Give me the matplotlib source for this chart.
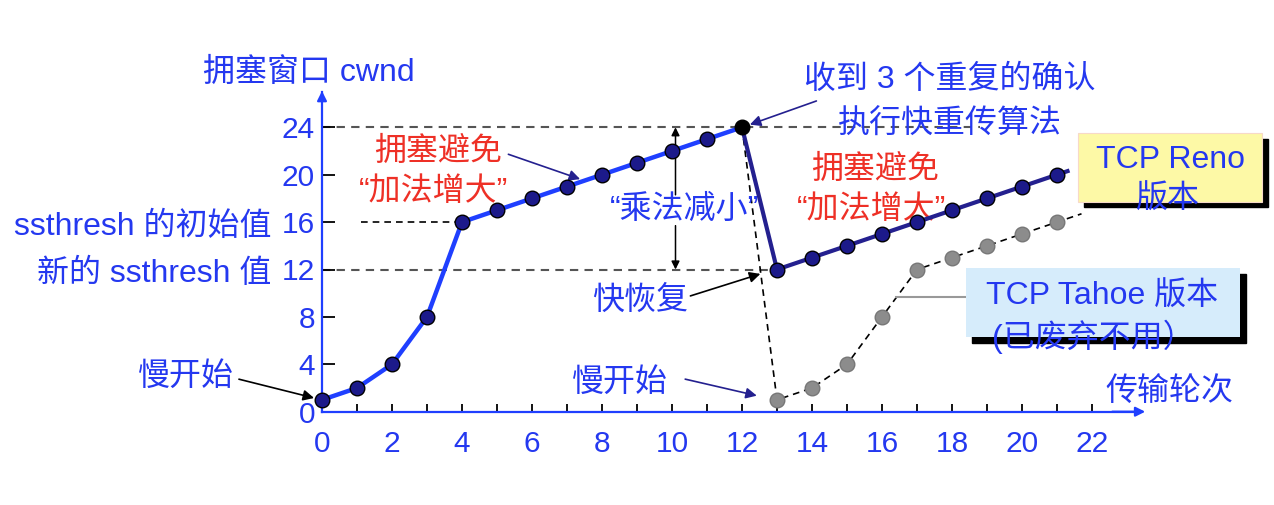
import numpy as np
import matplotlib.pyplot as plt
from matplotlib.patches import Rectangle

plt.rcParams['font.family'] = ['Liberation Sans', 'Noto Sans CJK SC']

# transmission rounds and cwnd values
rounds_start = [0, 1, 2, 3, 4, 5, 6, 7, 8, 9, 10, 11, 12]
cwnd_start = [1, 2, 4, 8, 16, 17, 18, 19, 20, 21, 22, 23, 24]
rounds_reno = [12, 13, 14, 15, 16, 17, 18, 19, 20, 21]
cwnd_reno = [24, 12, 13, 14, 15, 16, 17, 18, 19, 20]
rounds_tahoe = [12, 13, 14, 15, 16, 17, 18, 19, 20, 21]
cwnd_tahoe = [24, 1, 2, 4, 8, 12, 13, 14, 15, 16]
xticks_major = [0, 2, 4, 6, 8, 10, 12, 14, 16, 18, 20, 22]
yticks = [0, 4, 8, 12, 16, 20, 24]

BLUE = '#2438f0'
LINE_BLUE = '#1f3fff'
NAVY = '#24208f'
RED = '#ee3026'
FS = 23
TFS = 21.5

fig = plt.figure(figsize=(12.74, 5.05), dpi=100)
ax = fig.add_axes([0, 0, 1, 1])
ax.set_xlim(-322/35, 952/35)
ax.set_ylim(-93.3/11.85, 411.7/11.85)

# axes
for s in ['top', 'right']:
    ax.spines[s].set_visible(False)
ax.spines['left'].set_position(('data', 0))
ax.spines['bottom'].set_position(('data', 0))
ax.spines['left'].set_bounds(0, 27)
ax.spines['bottom'].set_bounds(0, 23.3)
ax.spines['left'].set_color(LINE_BLUE)
ax.spines['bottom'].set_color(LINE_BLUE)
ax.spines['left'].set_linewidth(1.6)
ax.spines['bottom'].set_linewidth(1.6)
ax.annotate('', xy=(0, 27.3), xytext=(0, 26), arrowprops=dict(arrowstyle='-|>', color=LINE_BLUE, lw=1.6, mutation_scale=14))
ax.annotate('', xy=(23.6, 0), xytext=(22.5, 0), arrowprops=dict(arrowstyle='-|>', color=LINE_BLUE, lw=1.6, mutation_scale=14))

ax.set_xticks(xticks_major)
ax.set_xticks(range(0, 23), minor=True)
ax.set_yticks(yticks)
ax.tick_params(axis='x', which='both', direction='in', length=6, width=1.3, color='black',
               labelcolor=BLUE, labelsize=TFS, pad=13)
ax.tick_params(axis='y', direction='in', length=9, width=1.3, color='black',
               labelcolor=BLUE, labelsize=TFS, pad=5)
ax.yaxis.get_major_ticks()[0].tick1line.set_visible(False)

# guide lines
ax.plot([0, 18.8], [24, 24], color='#555555', lw=1.5, dashes=(4, 3), zorder=1)
ax.plot([0, 13], [12, 12], color='#555555', lw=1.5, dashes=(4, 3), zorder=1)
ax.plot([1.1, 4], [16, 16], color='black', lw=1.2, dashes=(4, 3), zorder=1)

# tahoe
tx = np.array(rounds_tahoe, float)
ty = np.array(cwnd_tahoe, float)
ax.plot(list(tx) + [tx[-1] + 0.7], list(ty) + [ty[-1] + 0.7 * (ty[-1] - ty[-2])],
        color='black', lw=1.2, dashes=(4, 3), zorder=2)
ax.plot(tx[1:], ty[1:], 'o', ms=10.5, mfc='#8c8c8c', mec='#777777', zorder=3)

# reno
rx = np.array(rounds_reno, float)
ry = np.array(cwnd_reno, float)
ax.plot(list(rx) + [rx[-1] + 0.3], list(ry) + [ry[-1] + 0.3 * (ry[-1] - ry[-2])],
        color=NAVY, lw=3, zorder=4)
ax.plot(rounds_start, cwnd_start, color=LINE_BLUE, lw=3.2, zorder=4)
ax.plot(rounds_start[:-1], cwnd_start[:-1], 'o', ms=10.5, mfc='#1c1a8a', mec='black', mew=1, zorder=5)
ax.plot(rx[1:], ry[1:], 'o', ms=10.5, mfc='#1c1a8a', mec='black', mew=1, zorder=5)
ax.plot(rounds_start[-1], cwnd_start[-1], 'o', ms=10.5, mfc='black', mec='black', zorder=5)

# labels
ax.text(-3.4, 28.6, '拥塞窗口 cwnd', color=BLUE, fontsize=FS, ha='left', va='center')
ax.text(-1.45, 15.6, 'ssthresh 的初始值', color=BLUE, fontsize=FS, ha='right', va='center')
ax.text(-1.45, 11.6, '新的 ssthresh 值', color=BLUE, fontsize=FS, ha='right', va='center')
ax.text(24.2, 1.6, '传输轮次', color=BLUE, fontsize=FS, ha='center', va='center')

arr_black = dict(arrowstyle='-|>', color='black', lw=1.2, mutation_scale=16, shrinkA=2, shrinkB=2)
arr_navy = dict(arrowstyle='-|>', color=NAVY, lw=1.2, mutation_scale=16, shrinkA=2, shrinkB=2)

ax.text(-3.89, 2.9, '慢开始', color=BLUE, fontsize=FS, ha='center', va='center')
ax.annotate('', xy=(-0.15, 1.1), xytext=(-2.45, 2.8), arrowprops=arr_black)

ax.text(3.31, 21.9, '拥塞避免', color=RED, fontsize=FS, ha='center', va='center')
ax.text(3.2, 18.5, '“加法增大”', color=RED, fontsize=FS, ha='center', va='center')
ax.annotate('', xy=(7.45, 19.55), xytext=(5.25, 21.8), arrowprops=arr_navy)

ax.text(17.94, 28.0, '收到 3 个重复的确认', color=BLUE, fontsize=FS, ha='center', va='center')
ax.text(17.94, 24.2, '执行快重传算法', color=BLUE, fontsize=FS, ha='center', va='center')
ax.annotate('', xy=(12.15, 24.15), xytext=(14.2, 26.3), arrowprops=arr_navy)

ax.text(15.8, 20.4, '拥塞避免', color=RED, fontsize=FS, ha='center', va='center')
ax.text(15.7, 17.0, '“加法增大”', color=RED, fontsize=FS, ha='center', va='center')
ax.text(10.37, 17.0, '“乘法减小”', color=BLUE, fontsize=FS, ha='center', va='center')
ax.annotate('', xy=(10.1, 24), xytext=(10.1, 18.3),
            arrowprops=dict(arrowstyle='-|>', color='black', lw=1.1, mutation_scale=12, shrinkA=0, shrinkB=0))
ax.annotate('', xy=(10.1, 12), xytext=(10.1, 15.7),
            arrowprops=dict(arrowstyle='-|>', color='black', lw=1.1, mutation_scale=12, shrinkA=0, shrinkB=0))

ax.text(9.09, 9.4, '快恢复', color=BLUE, fontsize=FS, ha='center', va='center')
ax.annotate('', xy=(12.6, 11.7), xytext=(10.45, 9.7), arrowprops=arr_black)

ax.text(8.51, 2.4, '慢开始', color=BLUE, fontsize=FS, ha='center', va='center')
ax.annotate('', xy=(12.5, 1.3), xytext=(10.3, 2.8), arrowprops=arr_navy)

# version boxes
ax.add_patch(Rectangle((21.78, 17.25), 26.86 - 21.6, 23.5 - 17.7, color='black', zorder=6))
ax.add_patch(Rectangle((21.6, 17.7), 26.86 - 21.6, 23.5 - 17.7, facecolor='#fdf9a6',
                       edgecolor='#f7d9c8', lw=0.8, zorder=7))
ax.text(24.23, 21.2, 'TCP Reno', color=BLUE, fontsize=FS, ha='center', va='center', zorder=8)
ax.text(24.17, 17.9, '版本', color=BLUE, fontsize=FS, ha='center', va='center', zorder=8)

ax.plot([16.4, 18.4], [9.7, 9.7], color='#999999', lw=1.5, zorder=2)
ax.add_patch(Rectangle((18.58, 5.8), 26.23 - 18.4, 12.1 - 6.3, color='black', zorder=6))
ax.add_patch(Rectangle((18.4, 6.3), 26.23 - 18.4, 12.1 - 6.3, facecolor='#d6ecfb',
                       edgecolor='none', zorder=7))
ax.text(22.29, 9.7, 'TCP Tahoe 版本', color=BLUE, fontsize=FS, ha='center', va='center', zorder=8)
ax.text(22.03, 6.3, '(已废弃不用）', color=BLUE, fontsize=FS, ha='center', va='center', zorder=8)

fig.savefig('out.png', dpi=100)
